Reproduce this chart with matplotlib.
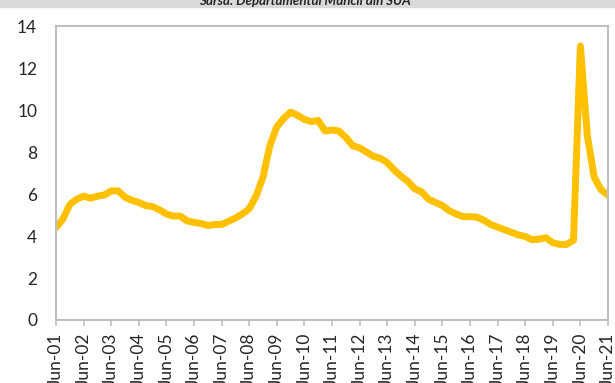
import numpy as np
import matplotlib
matplotlib.use("Agg")
import matplotlib.pyplot as plt
from matplotlib.patches import Rectangle

# rata somajului SUA, date trimestriale iun-2001 .. iun-2021 (%)
ani = ["Jun-%02d" % a for a in range(1, 22)]
somaj = [
    4.4, 4.8, 5.5, 5.75, 5.9, 5.8, 5.9, 5.95, 6.15, 6.15,
    5.85, 5.7, 5.6, 5.45, 5.4, 5.25, 5.05, 4.95, 4.95, 4.72,
    4.65, 4.6, 4.5, 4.55, 4.55, 4.7, 4.85, 5.05, 5.3, 5.9,
    6.8, 8.3, 9.2, 9.6, 9.9, 9.75, 9.55, 9.45, 9.5, 9.0,
    9.05, 9.0, 8.7, 8.3, 8.2, 8.0, 7.8, 7.7, 7.5, 7.15,
    6.85, 6.6, 6.25, 6.1, 5.75, 5.6, 5.45, 5.2, 5.05, 4.92,
    4.92, 4.9, 4.75, 4.55, 4.42, 4.3, 4.18, 4.05, 3.98, 3.82,
    3.85, 3.92, 3.68, 3.6, 3.6, 3.8, 13.05, 8.8, 6.8, 6.2,
    5.95,
]
sursa = "Sursa: Departamentul Muncii din SUA"

plt.rcParams['font.family'] = ['Lato', 'DejaVu Sans']

fig = plt.figure(figsize=(6.15, 3.83), dpi=100)
ax = fig.add_axes([0.091, 0.1645, 0.8976, 0.7675])

t = np.arange(len(somaj))
ax.plot(t, somaj, color="#FFC000", lw=5, solid_capstyle="round",
        solid_joinstyle="round")

ax.set_xlim(0, len(somaj) - 1)
ax.set_ylim(0, 14)
ax.set_yticks(range(0, 15, 2))
ax.set_xticks(np.arange(0, len(somaj), 4))
ax.set_xticklabels(ani, rotation=90)

for s in ax.spines.values():
    s.set_color("#BFBFBF")
    s.set_linewidth(1.5)
ax.tick_params(axis="y", length=0, pad=13.5, labelsize=12.5, labelcolor="#262626")
ax.tick_params(axis="x", length=4, width=1.2, color="#BFBFBF", pad=5,
               labelsize=12.5, labelcolor="#262626")

# banda gri de sus cu sursa (taiata)
fig.patches.append(Rectangle((0, 1 - 7 / 383), 1, 7 / 383, transform=fig.transFigure,
                             color="#D9D9D9", zorder=0))
fig.text(0.495, 1 - 5 / 383, sursa, ha="center", va="baseline", fontsize=9.5,
         fontweight="bold", fontstyle="italic", color="#262626")

fig.savefig("out.png", dpi=100)
